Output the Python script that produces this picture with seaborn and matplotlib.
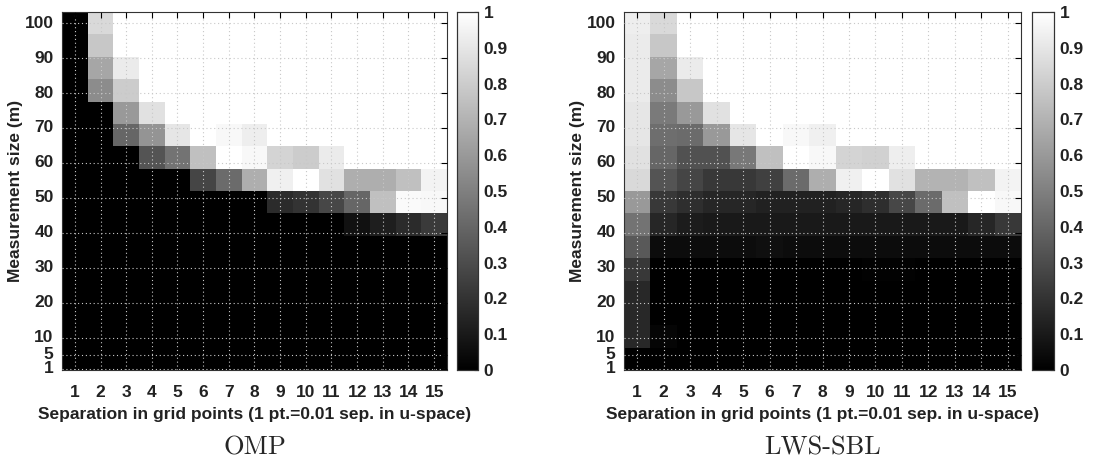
import numpy as np
import pandas as pd
import matplotlib
matplotlib.use("Agg")
import matplotlib.pyplot as plt
import seaborn as sns

sns.set_style("white")
plt.rcParams['font.family'] = ['Liberation Sans', 'DejaVu Sans']

# Separation in grid points (columns)
separation = list(range(1, 16))
# Measurement-size rows, listed top (largest m) to bottom
n_rows = 16
m_top, m_bottom = 103.2, 0.7
ytick_values = [1, 5, 10, 20, 30, 40, 50, 60, 70, 80, 90, 100]
cbar_ticks = [0, 0.1, 0.2, 0.3, 0.4, 0.5, 0.6, 0.7, 0.8, 0.9, 1.0]

# Success probability, OMP (rows top->bottom, cols 1..15)
omp = [
    [0, .85, 1, 1, 1, 1, 1, 1, 1, 1, 1, 1, 1, 1, 1],
    [0, .78, 1, 1, 1, 1, 1, 1, 1, 1, 1, 1, 1, 1, 1],
    [0, .65, .92, 1, 1, 1, 1, 1, 1, 1, 1, 1, 1, 1, 1],
    [0, .55, .80, 1, 1, 1, 1, 1, 1, 1, 1, 1, 1, 1, 1],
    [0, 0, .60, .88, 1, 1, 1, 1, 1, 1, 1, 1, 1, 1, 1],
    [0, 0, .40, .58, .90, 1, .97, .93, 1, 1, 1, 1, 1, 1, 1],
    [0, 0, 0, .33, .45, .75, 1, .97, .83, .80, .92, 1, 1, 1, 1],
    [0, 0, 0, 0, 0, .27, .42, .68, .94, 1, .88, .68, .68, .75, .95],
    [0, 0, 0, 0, 0, 0, 0, 0, .17, .20, .28, .40, .75, .98, .97],
    [0, 0, 0, 0, 0, 0, 0, 0, 0, 0, 0, .07, .12, .17, .23],
    [0] * 15,
    [0] * 15,
    [0] * 15,
    [0] * 15,
    [0] * 15,
    [0] * 15,
]

# Success probability, LWS-SBL
lws = [
    [.93, .85, 1, 1, 1, 1, 1, 1, 1, 1, 1, 1, 1, 1, 1],
    [.92, .78, 1, 1, 1, 1, 1, 1, 1, 1, 1, 1, 1, 1, 1],
    [.92, .65, .92, 1, 1, 1, 1, 1, 1, 1, 1, 1, 1, 1, 1],
    [.92, .55, .78, 1, 1, 1, 1, 1, 1, 1, 1, 1, 1, 1, 1],
    [.90, .48, .60, .88, 1, 1, 1, 1, 1, 1, 1, 1, 1, 1, 1],
    [.90, .43, .42, .60, .90, 1, .97, .94, 1, 1, 1, 1, 1, 1, 1],
    [.88, .40, .32, .32, .47, .75, 1, .97, .83, .82, .93, 1, 1, 1, 1],
    [.85, .33, .27, .22, .22, .25, .42, .68, .94, 1, .88, .70, .70, .75, .95],
    [.60, .22, .18, .15, .15, .13, .13, .13, .15, .18, .28, .42, .75, 1, .97],
    [.45, .15, .11, .10, .10, .10, .10, .10, .10, .10, .10, .10, .10, .15, .22],
    [.35, .05, .05, .05, .05, .06, .05, .05, .05, .05, .05, .05, .05, .05, .05],
    [.22, 0, 0, 0, 0, 0, 0, 0, 0, .01, .01, 0, 0, 0, 0],
    [.16, 0, 0, 0, 0, 0, 0, 0, 0, 0, 0, 0, 0, 0, 0],
    [.16, 0, 0, 0, 0, 0, 0, 0, 0, 0, 0, 0, 0, 0, 0],
    [.16, .02, 0, 0, 0, 0, 0, 0, 0, 0, 0, 0, 0, 0, 0],
    [0] * 15,
]

titles = ["OMP", "LWS-SBL"]
xlabel = "Separation in grid points (1 pt.=0.01 sep. in u-space)"
ylabel = "Measurement size (m)"

W, H = 1104, 465
fig = plt.figure(figsize=(W / 100, H / 100), dpi=100)

def px_rect(x0, y0, x1, y1):
    return [x0 / W, 1 - y1 / H, (x1 - x0) / W, (y1 - y0) / H]

layouts = [
    (px_rect(62, 12, 447, 370), px_rect(457, 12, 478, 370)),
    (px_rect(624, 12, 1021, 370), px_rect(1032, 12, 1054, 370)),
]

row_h = (m_top - m_bottom) / n_rows
fs = 12.5

for data, title, (axr, caxr) in zip([omp, lws], titles, layouts):
    ax = fig.add_axes(axr)
    cax = fig.add_axes(caxr)
    df = pd.DataFrame(np.array(data), columns=separation)
    sns.heatmap(df, ax=ax, cbar_ax=cax, cmap="gray", vmin=0, vmax=1,
                cbar_kws={"ticks": cbar_ticks})
    # x ticks at column centres
    ax.set_xticks([i + 0.5 for i in range(len(separation))])
    ax.set_xticklabels([str(s) for s in separation], rotation=0,
                       fontsize=fs, fontweight="bold")
    # y ticks mapped from measurement size to row coordinate (top = 0)
    ax.set_yticks([(m_top - v) / row_h for v in ytick_values])
    ax.set_yticklabels([str(v) for v in ytick_values], rotation=0,
                       fontsize=fs, fontweight="bold")
    ax.tick_params(direction="in", length=4, width=0.8, top=True, right=True,
                   pad=6, colors="black")
    ax.tick_params(axis="x", pad=11)
    ax.tick_params(axis="both", labelcolor="#222222")
    for s in ax.spines.values():
        s.set_visible(True)
        s.set_color("#333333")
        s.set_linewidth(0.8)
    ax.set_axisbelow(False)
    ax.grid(True, color="#c8c8c8", linestyle=(0, (1, 2.5)), linewidth=0.8)
    ax.set_xlabel(xlabel, fontsize=fs, fontweight="bold", color="#222222",
                  labelpad=5)
    ax.set_ylabel(ylabel, fontsize=fs, fontweight="bold", color="#222222",
                  labelpad=1)
    # colorbar styling
    cax.tick_params(direction="in", length=3, width=0.8, labelsize=fs,
                    pad=4, colors="black")
    cax.set_yticklabels(["%g" % t for t in cbar_ticks], fontweight="bold",
                        color="#222222")
    for s in cax.spines.values():
        s.set_visible(True)
        s.set_color("#333333")
        s.set_linewidth(0.8)
    cx = (axr[0] + axr[2] / 2)
    fig.text(cx, 17 / H, title, ha="center", va="center", fontsize=19,
             family=["cmr10", "DejaVu Serif"])

fig.savefig("out.png", dpi=100)
